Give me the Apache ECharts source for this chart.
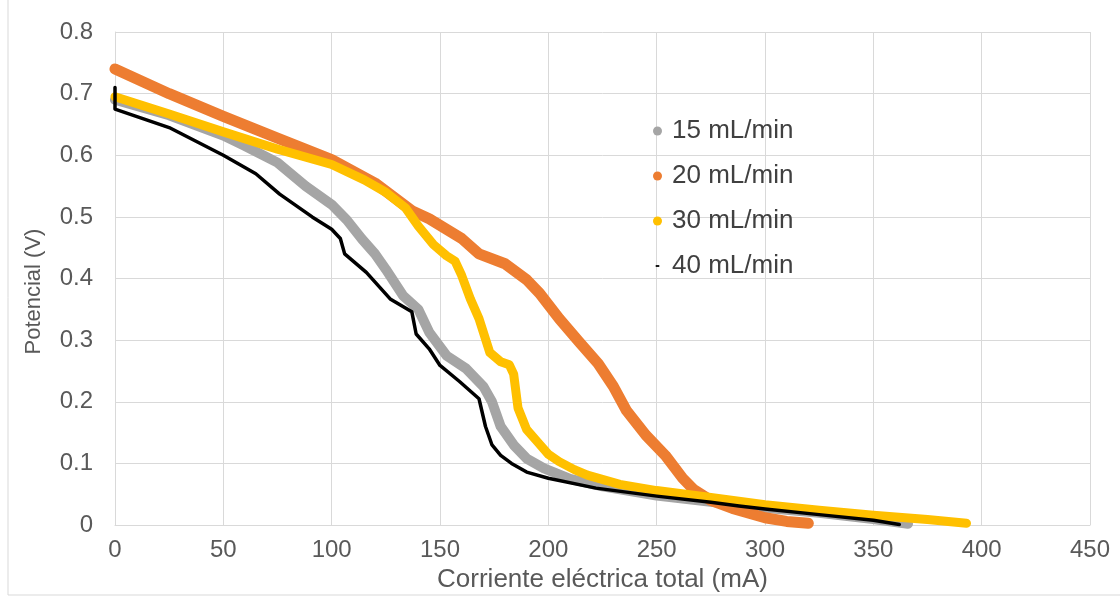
<!DOCTYPE html>
<html>
<head>
<meta charset="utf-8">
<script src="https://cdn.jsdelivr.net/npm/echarts@6/dist/echarts.min.js"></script>
<style>html,body{margin:0;padding:0;background:#fff;}#c{width:1120px;height:598px;}</style>
</head>
<body>
<div id="c"></div>
<script>
var seriesNames = ['15 mL/min', '20 mL/min', '30 mL/min', '40 mL/min'];
var xTicks = [0, 50, 100, 150, 200, 250, 300, 350, 400, 450];
var yTicks = [0, 0.1, 0.2, 0.3, 0.4, 0.5, 0.6, 0.7, 0.8];

var flow15 = [[0,0.69],[25,0.665],[50,0.632],[60,0.615],[75,0.588],[88,0.55],[100,0.52],[107,0.495],[114,0.464],[120,0.44],[125,0.415],[133,0.372],[140,0.35],[145,0.313],[153,0.275],[162,0.254],[170,0.225],[174,0.2],[178,0.16],[184,0.13],[190,0.108],[198,0.092],[210,0.075],[225,0.063],[250,0.048],[275,0.038],[300,0.028],[325,0.02],[350,0.01],[366,0.002]];
var flow20 = [[0,0.74],[25,0.7],[50,0.663],[75,0.628],[100,0.593],[120,0.555],[137,0.51],[145,0.497],[160,0.465],[168,0.44],[180,0.424],[190,0.398],[196,0.376],[205,0.335],[214,0.298],[223,0.262],[230,0.225],[236,0.186],[245,0.146],[254,0.113],[262,0.076],[267,0.058],[275,0.04],[285,0.027],[300,0.012],[310,0.006],[320,0.003]];
var flow30 = [[0,0.695],[25,0.667],[50,0.638],[75,0.61],[100,0.585],[115,0.56],[125,0.54],[134,0.515],[140,0.485],[147,0.455],[153,0.437],[157,0.428],[160,0.405],[164,0.367],[168,0.335],[173,0.28],[178,0.265],[182,0.26],[184,0.245],[186,0.19],[190,0.155],[195,0.135],[200,0.115],[205,0.103],[212,0.09],[218,0.081],[233,0.066],[250,0.056],[275,0.045],[300,0.033],[325,0.024],[350,0.016],[375,0.009],[393,0.003]];
var flow40 = [[0,0.71],[0,0.675],[25,0.645],[50,0.6],[65,0.57],[76,0.537],[91,0.5],[100,0.48],[104,0.465],[106,0.44],[116,0.41],[127,0.367],[137,0.346],[139,0.31],[145,0.286],[150,0.259],[159,0.233],[168,0.205],[170,0.175],[171,0.16],[174,0.13],[178,0.113],[183,0.1],[190,0.086],[200,0.076],[222,0.06],[250,0.047],[275,0.037],[288,0.031],[300,0.026],[325,0.017],[350,0.008],[362,0.001]];

var colors = ['#A5A5A5', '#ED7D31', '#FFC000', '#000000'];
var widths = [10, 11, 9, 3.5];
var datasets = [flow15, flow20, flow30, flow40];

var chart = echarts.init(document.getElementById('c'), null, {renderer: 'canvas'});
var font = '"Liberation Sans", Arial, sans-serif';
chart.setOption({
  backgroundColor: '#ffffff',
  animation: false,
  grid: {left: 115, right: 30, top: 32, bottom: 71, containLabel: false},
  xAxis: {
    type: 'value', min: 0, max: 450, interval: 50,
    name: 'Corriente eléctrica total (mA)', nameLocation: 'middle', nameGap: 39,
    nameTextStyle: {color: '#595959', fontSize: 26, fontFamily: font},
    axisLine: {show: true, lineStyle: {color: '#d9d9d9', width: 1}},
    axisTick: {show: false},
    axisLabel: {color: '#595959', fontSize: 24, fontFamily: font, margin: 13,
      formatter: function (v) { return xTicks.indexOf(v) >= 0 ? String(v) : ''; }},
    splitLine: {show: true, lineStyle: {color: '#d9d9d9', width: 1}}
  },
  yAxis: {
    type: 'value', min: 0, max: 0.8, interval: 0.1,
    name: 'Potencial (V)', nameLocation: 'middle', nameGap: 70, nameRotate: 90,
    nameTextStyle: {color: '#595959', fontSize: 22, fontFamily: font, padding: [0, 26, 0, 0]},
    axisLine: {show: true, lineStyle: {color: '#d9d9d9', width: 1}},
    axisTick: {show: false},
    axisLabel: {color: '#595959', fontSize: 24, fontFamily: font, margin: 22,
      formatter: function (v) {
        for (var i = 0; i < yTicks.length; i++) { if (Math.abs(yTicks[i] - v) < 1e-9) return v === 0 ? '0' : yTicks[i].toFixed(1); }
        return '';
      }},
    splitLine: {show: true, lineStyle: {color: '#d9d9d9', width: 1}}
  },
  legend: {
    orient: 'vertical', left: 648, top: 113, itemGap: 19,
    itemWidth: 9, itemHeight: 9,
    textStyle: {color: '#404040', fontSize: 26, fontFamily: font, lineHeight: 26, padding: [0,0,0,5]},
    data: [
      {name: seriesNames[0], icon: 'circle'},
      {name: seriesNames[1], icon: 'circle'},
      {name: seriesNames[2], icon: 'circle'},
      {name: seriesNames[3], icon: 'path://M0,0M10,10M3,4L7,4L7,6L3,6Z'}
    ]
  },
  graphic: [
    {type: 'line', shape: {x1: 8, y1: 0, x2: 8, y2: 595}, style: {stroke: '#d9d9d9', lineWidth: 1}},
    {type: 'line', shape: {x1: 8, y1: 595, x2: 1120, y2: 595}, style: {stroke: '#d9d9d9', lineWidth: 1}}
  ],
  series: datasets.map(function (d, i) {
    return {
      name: seriesNames[i], type: 'line', data: d, showSymbol: false, symbol: 'circle',
      smooth: false, z: 2 + i,
      lineStyle: {color: colors[i], width: widths[i], cap: 'round', join: 'round'},
      itemStyle: {color: colors[i]}
    };
  })
});
</script>
</body>
</html>
